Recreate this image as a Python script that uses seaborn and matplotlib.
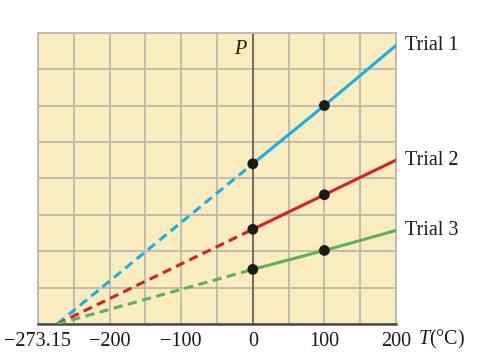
import matplotlib
matplotlib.use("Agg")
import matplotlib.pyplot as plt
import matplotlib.transforms as mtransforms
import numpy as np
import pandas as pd
import seaborn as sns

# ---- data ----
trials = ["Trial 1", "Trial 2", "Trial 3"]
trial_colors = ["#1aaee8", "#d4212a", "#5db35a"]
abs_zero = -273.15
measured_T = [0, 100]
p_trial1 = [4.4, 6.0]
p_trial2 = [2.6, 3.55]
p_trial3 = [1.5, 2.02]
end_T = 200
p_end = [7.65, 4.5, 2.57]
tick_values = [-273.15, -200, -100, 0, 100, 200]
tick_labels = ["\u2212273.15", "\u2212200", "\u2212100", "0", "100", "200"]

sns.set_theme(style="white")
plt.rcParams["font.family"] = ["Liberation Serif", "DejaVu Serif"]
plt.rcParams["mathtext.fontset"] = "custom"
plt.rcParams["mathtext.rm"] = "Liberation Serif"
plt.rcParams["mathtext.it"] = "Liberation Serif:italic"

FS = 14.5
fig = plt.figure(figsize=(4.8, 3.63), dpi=100)
ax = fig.add_axes([38 / 480, 1 - 324 / 363, (396 - 38) / 480, (324 - 32.7) / 363])
ax.set_facecolor("#f9ecbf")
ax.set_xlim(-300, 200)
ax.set_ylim(0, 8)

grid_c = "#bdb9aa"
ax.xaxis.remove_overlapping_locs = False
ax.set_xticks(np.arange(-300, 201, 50), minor=True)
ax.set_yticks(np.arange(0, 8.1, 1), minor=True)
ax.set_yticks([])
ax.set_xticks(tick_values)
ax.set_xticklabels(tick_labels, fontsize=FS, color="#1a1a1a")
ax.grid(which="major", visible=False)
ax.grid(which="minor", color=grid_c, lw=1.3, zorder=0)
ax.tick_params(which="both", length=0, pad=6)
# shift the absolute-zero label left as in the reference
first = ax.get_xticklabels()[0]
first.set_transform(first.get_transform() + mtransforms.ScaledTranslation(-0.20, 0, fig.dpi_scale_trans))

for side in ["left", "top", "right"]:
    ax.spines[side].set_color(grid_c)
    ax.spines[side].set_linewidth(1.3)
ax.spines["bottom"].set_color("#4a4a4a")
ax.spines["bottom"].set_linewidth(1.8)

ax.axvline(0, color="#6e625a", lw=1.3, zorder=2)

series = [p_trial1, p_trial2, p_trial3]
for name, col, p, pe in zip(trials, trial_colors, series, p_end):
    solid = pd.DataFrame({"T": measured_T + [end_T], "P": p + [pe]})
    dashed = pd.DataFrame({"T": [abs_zero, measured_T[0]], "P": [0, p[0]]})
    sns.lineplot(data=solid, x="T", y="P", ax=ax, color=col, lw=2.2, estimator=None, zorder=3)
    sns.lineplot(data=dashed, x="T", y="P", ax=ax, color=col, lw=2.2, estimator=None,
                 linestyle=(0, (3, 1.8)), zorder=3)
    ax.annotate(name, xy=(end_T, pe), xytext=(9, 0), textcoords="offset pixels",
                fontsize=FS, color="#1a1a1a", va="center", ha="left", annotation_clip=False)

pts = pd.DataFrame({"T": measured_T * 3, "P": p_trial1 + p_trial2 + p_trial3})
sns.scatterplot(data=pts, x="T", y="P", ax=ax, color="#1a1a1a", s=60, edgecolor="none", zorder=5)

ax.set_xlabel("")
ax.set_ylabel("")
ax.text(-18, 7.53, "P", fontsize=FS, style="italic", ha="center", va="center", color="#1a1a1a")
fig.text(418 / 480, 1 - 339 / 363, "$\\mathit{T}$(\u00b0C)", fontsize=FS, va="center", ha="left",
         color="#1a1a1a")

fig.savefig("out.png", dpi=100)
